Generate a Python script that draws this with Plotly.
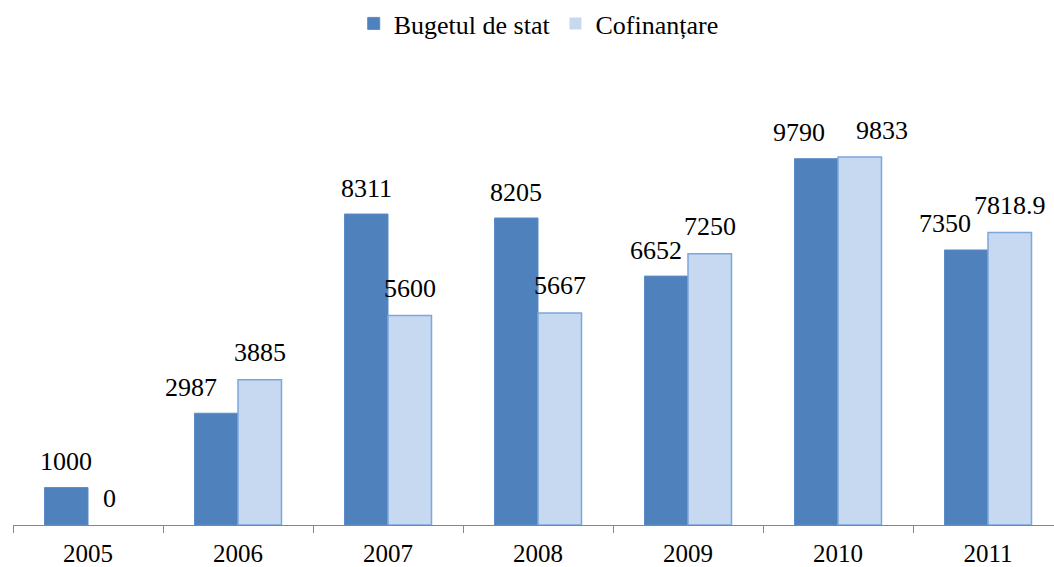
import plotly.graph_objects as go

years = ["2005", "2006", "2007", "2008", "2009", "2010", "2011"]
bugetul = [1000, 2987, 8311, 8205, 6652, 9790, 7350]
cofinantare = [0, 3885, 5600, 5667, 7250, 9833, 7818.9]
bugetul_labels = ["1000", "2987", "8311", "8205", "6652", "9790", "7350"]
cofin_labels = ["0", "3885", "5600", "5667", "7250", "9833", "7818.9"]
series_names = ["Bugetul de stat", "Cofinanțare"]

FONT = "Liberation Serif"
DARK = "#4F81BD"
LIGHT = "#C6D9F1"

fig = go.Figure()
fig.add_trace(go.Bar(x=years, y=bugetul, name=series_names[0],
                     marker=dict(color=DARK,
                                 line=dict(color="#5B8BC8",
                                           width=[0 if v == 0 else 1 for v in bugetul]))))
fig.add_trace(go.Bar(x=years, y=cofinantare, name=series_names[1],
                     marker=dict(color=LIGHT,
                                 line=dict(color="#7EA6DC",
                                           width=[0 if v == 0 else 1.5 for v in cofinantare]))))

half = 21.75
# label nudges (pixels) to avoid overlaps, as in the original layout
nudge_b = {1: -25, 4: -10, 5: -17, 6: -21}
nudge_c = {5: 22}
annotations = []
for i, (v, t) in enumerate(zip(bugetul, bugetul_labels)):
    annotations.append(dict(x=i, y=v, xref="x", yref="y", text=t, showarrow=False,
                            xshift=-half + nudge_b.get(i, 0), yshift=26,
                            yanchor="middle", font=dict(family=FONT, size=26, color="black")))
for i, (v, t) in enumerate(zip(cofinantare, cofin_labels)):
    annotations.append(dict(x=i, y=v, xref="x", yref="y", text=t, showarrow=False,
                            xshift=half + nudge_c.get(i, 0), yshift=27,
                            yanchor="middle", font=dict(family=FONT, size=26, color="black")))

fig.update_layout(
    width=1054, height=567,
    margin=dict(l=13, r=0, t=76, b=42, autoexpand=False),
    paper_bgcolor="white", plot_bgcolor="white",
    barmode="group", bargap=0.42, bargroupgap=0,
    font=dict(family=FONT, size=25, color="black"),
    legend=dict(orientation="h", x=0.505, xanchor="center", y=1.0, yanchor="top",
                yref="container", font=dict(family=FONT, size=26, color="black"),
                itemclick=False, traceorder="normal"),
    annotations=annotations,
    showlegend=True,
)
fig.update_xaxes(type="category", range=[-0.5, 6.44], showline=True, linecolor="#868686",
                 linewidth=1, ticks="outside", tickson="boundaries", ticklen=7,
                 tickcolor="#868686", showgrid=False, ticklabelstandoff=6,
                 tickfont=dict(family=FONT, size=25, color="black"))
fig.update_yaxes(range=[0, 12000], visible=False, showgrid=False, zeroline=False)

fig.write_html("out.html", config={"displayModeBar": False},
               post_script="document.body.style.margin='0';")
